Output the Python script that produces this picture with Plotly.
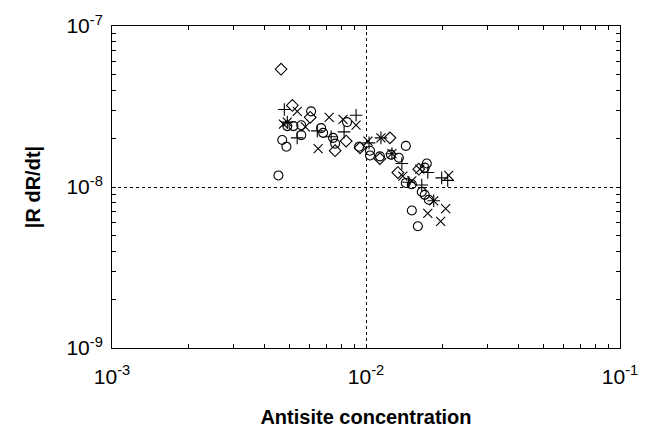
import plotly.graph_objects as go

# Antisite concentration (x) and |R dR/dt| (y)
circ_x = [4.52e-3, 4.68e-3, 4.86e-3, 4.90e-3, 5.18e-3, 5.56e-3, 5.56e-3, 6.08e-3, 6.66e-3, 6.78e-3,
          7.42e-3, 7.56e-3, 8.42e-3, 9.39e-3, 1.037e-2, 1.037e-2, 1.134e-2, 1.253e-2, 1.347e-2, 1.435e-2,
          1.435e-2, 1.515e-2, 1.515e-2, 1.600e-2, 1.658e-2, 1.703e-2, 1.767e-2, 1.735e-2, 1.703e-2]
circ_y = [1.18e-8, 1.96e-8, 1.78e-8, 2.39e-8, 2.39e-8, 2.42e-8, 2.10e-8, 2.95e-8, 2.32e-8, 2.17e-8,
          2.02e-8, 1.86e-8, 2.53e-8, 1.78e-8, 1.68e-8, 1.57e-8, 1.55e-8, 1.59e-8, 1.52e-8, 1.80e-8,
          1.06e-8, 1.04e-8, 7.14e-9, 5.70e-9, 9.32e-9, 8.94e-9, 8.33e-9, 1.40e-8, 1.32e-8]

diam_x = [4.63e-3, 5.13e-3, 6.03e-3, 7.56e-3, 8.35e-3, 9.47e-3, 1.134e-2, 1.242e-2, 1.335e-2, 1.614e-2]
diam_y = [5.39e-8, 3.21e-8, 2.71e-8, 1.68e-8, 1.93e-8, 1.75e-8, 1.50e-8, 2.02e-8, 1.23e-8, 1.29e-8]

xs_x = [4.73e-3, 4.90e-3, 5.36e-3, 5.77e-3, 6.48e-3, 7.16e-3, 8.12e-3, 9.14e-3, 1.018e-2, 1.145e-2,
        1.265e-2, 1.397e-2, 1.515e-2, 1.629e-2, 1.848e-2, 2.059e-2, 1.751e-2, 1.968e-2, 2.116e-2]
xs_y = [2.46e-8, 2.53e-8, 2.95e-8, 2.36e-8, 1.73e-8, 2.71e-8, 2.63e-8, 2.42e-8, 1.93e-8, 2.02e-8,
        1.61e-8, 1.17e-8, 1.09e-8, 1.29e-8, 8.21e-9, 7.34e-9, 6.85e-9, 6.12e-9, 1.18e-8]

plus_x = [4.77e-3, 4.90e-3, 5.36e-3, 6.43e-3, 7.29e-3, 8.20e-3, 9.14e-3, 1.028e-2, 1.145e-2, 1.265e-2,
          1.384e-2, 1.474e-2, 1.658e-2, 1.751e-2, 1.848e-2, 1.986e-2, 2.097e-2]
plus_y = [3.03e-8, 2.53e-8, 2.02e-8, 2.23e-8, 2.05e-8, 2.20e-8, 2.79e-8, 1.88e-8, 2.02e-8, 1.61e-8,
          1.40e-8, 1.07e-8, 1.03e-8, 1.23e-8, 8.21e-9, 1.14e-8, 1.10e-8]

x_ticks = [1e-3, 1e-2, 1e-1]
x_tick_text = ["10<sup>-3</sup>", "10<sup>-2</sup>", "10<sup>-1</sup>"]
y_ticks = [1e-9, 1e-8, 1e-7]
y_tick_text = ["10<sup>-9</sup>", "10<sup>-8</sup>", "10<sup>-7</sup>"]
x_minor = [m * d for d in (1e-3, 1e-2) for m in range(2, 10)]
y_minor = [m * d for d in (1e-9, 1e-8) for m in range(2, 10)]

FONT = "Liberation Sans, Arial, sans-serif"

fig = go.Figure()

def add(xv, yv, sym, size):
    fig.add_trace(go.Scatter(
        x=xv, y=yv, mode="markers",
        marker=dict(symbol=sym, size=size, color="black",
                    line=dict(color="black", width=1.1)),
        showlegend=False, cliponaxis=False))

add(circ_x, circ_y, "circle-open", 9)
add(diam_x, diam_y, "diamond-open", 9)
add(xs_x, xs_y, "x-thin-open", 9)
add(plus_x, plus_y, "cross-thin-open", 9)

axis_common = dict(
    type="log", showline=True, linecolor="black", linewidth=1, mirror="ticks",
    ticks="inside", ticklen=4, tickcolor="black", tickwidth=1,
    showgrid=True, gridcolor="black", gridwidth=1, griddash="dot",
    zeroline=False,
    tickfont=dict(family=FONT, size=21, color="black"),
)

fig.update_xaxes(
    **axis_common, range=[-3, -1], tickmode="array", tickvals=x_ticks, ticktext=x_tick_text,
    ticklabelstandoff=10,
    minor=dict(tickmode="array", tickvals=x_minor, ticks="inside", ticklen=4,
               tickcolor="black", showgrid=False),
    title=dict(text="<b>Antisite concentration</b>", standoff=22,
               font=dict(family=FONT, size=20, color="black")),
)
fig.update_yaxes(
    **axis_common, range=[-9, -7], tickmode="array", tickvals=y_ticks, ticktext=y_tick_text,
    ticklabelstandoff=4,
    minor=dict(tickmode="array", tickvals=y_minor, ticks="inside", ticklen=4,
               tickcolor="black", showgrid=False),
    title=dict(text="<b>|R dR/dt|</b>", standoff=20,
               font=dict(family=FONT, size=20, color="black")),
)

fig.update_layout(
    width=650, height=436,
    margin=dict(l=112, r=28, t=23, b=85),
    paper_bgcolor="white", plot_bgcolor="white",
)

fig.write_html("out.html")
